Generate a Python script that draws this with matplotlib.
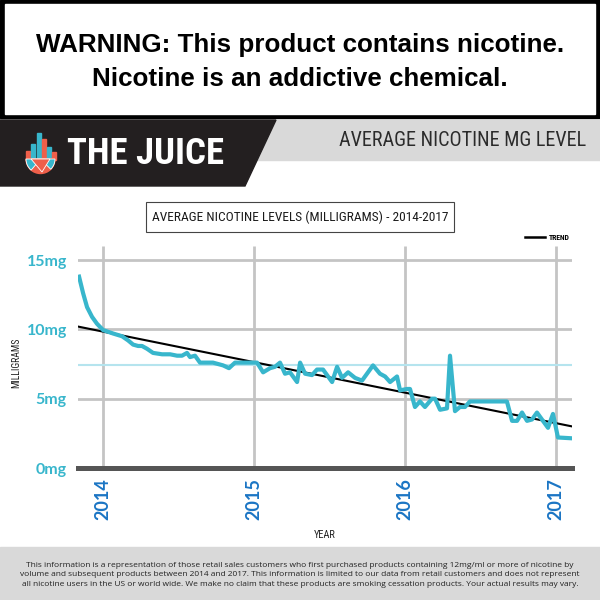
import matplotlib
matplotlib.use("Agg")
import matplotlib.pyplot as plt
from matplotlib import font_manager
from matplotlib.patches import Rectangle, Polygon, Wedge

# monthly-ish average nicotine level (decimal year, mg)
years = [2013.841, 2013.868, 2013.894, 2013.927, 2013.960, 2014.000, 2014.066,
         2014.126, 2014.166, 2014.199, 2014.232, 2014.258, 2014.291, 2014.331,
         2014.391, 2014.444, 2014.490, 2014.523, 2014.556, 2014.576, 2014.609,
         2014.642, 2014.675, 2014.728, 2014.795, 2014.834, 2014.874, 2014.921,
         2014.954, 2014.993, 2015.020, 2015.060, 2015.106, 2015.139, 2015.172,
         2015.205, 2015.238, 2015.285, 2015.305, 2015.338, 2015.384, 2015.417,
         2015.457, 2015.517, 2015.550, 2015.583, 2015.623, 2015.669, 2015.715,
         2015.788, 2015.834, 2015.868, 2015.901, 2015.947, 2015.967, 2016.013,
         2016.033, 2016.066, 2016.099, 2016.132, 2016.179, 2016.199, 2016.232,
         2016.278, 2016.298, 2016.331, 2016.364, 2016.397, 2016.430, 2016.477,
         2016.675, 2016.709, 2016.742, 2016.775, 2016.808, 2016.841, 2016.874,
         2016.907, 2016.947, 2016.980, 2017.013, 2017.093]
nicotine_mg = [13.8, 12.6, 11.6, 10.9, 10.4, 9.95, 9.7,
               9.5, 9.2, 8.9, 8.8, 8.8, 8.6, 8.3,
               8.2, 8.2, 8.1, 8.1, 8.3, 8.0, 8.1,
               7.6, 7.6, 7.6, 7.4, 7.2, 7.6, 7.6,
               7.6, 7.6, 7.6, 6.9, 7.2, 7.3, 7.6,
               6.8, 6.9, 6.2, 7.6, 6.8, 6.7, 7.1,
               7.1, 6.2, 7.3, 6.5, 6.9, 6.5, 6.3,
               7.4, 6.8, 6.6, 6.2, 6.6, 5.6, 5.7,
               5.7, 4.4, 4.8, 4.4, 5.0, 5.0, 4.2,
               4.3, 8.1, 4.1, 4.4, 4.4, 4.8, 4.8,
               4.8, 3.4, 3.4, 4.0, 3.4, 3.5, 4.0,
               3.5, 2.9, 3.9, 2.2, 2.15]
trend_years = [2013.834, 2017.106]
trend_mg = [10.2, 3.0]
average_mg = 7.45
year_ticks = [2014, 2015, 2016, 2017]
mg_ticks = [0, 5, 10, 15]
mg_labels = ["0mg", "5mg", "10mg", "15mg"]

names = {f.name for f in font_manager.fontManager.ttflist}


def pick(*cands):
    for c in cands:
        if c in names:
            return c
    return "DejaVu Sans"


narrow = pick("Roboto Condensed", "Liberation Sans Narrow", "Open Sans Condensed",
              "DejaVu Sans Condensed", "Roboto")
arial = pick("Liberation Sans", "DejaVu Sans")
round_font = pick("Lato", "Open Sans", "DejaVu Sans")
body = pick("Open Sans", "Noto Sans", "DejaVu Sans")

cyan = "#38b6cc"
red = "#ef5f4a"
dark = "#231f20"
grid = "#c4c4c4"

fig = plt.figure(figsize=(6, 6), dpi=100)

# background layer in pixel coordinates
bg = fig.add_axes([0, 0, 1, 1])
bg.set_xlim(0, 600)
bg.set_ylim(600, 0)
bg.axis("off")

# warning box
bg.add_patch(Rectangle((0, 0), 600, 118, color="black"))
bg.add_patch(Rectangle((5, 4), 590, 110, color="white"))
bg.text(300, 45, "WARNING: This product contains nicotine.", ha="center", va="center",
        family=arial, weight="bold", size=18.7)
bg.text(300, 79, "Nicotine is an addictive chemical.", ha="center", va="center",
        family=arial, weight="bold", size=18.7)

# header band
bg.add_patch(Rectangle((0, 120), 600, 40, color="#d9d9d9"))
bg.add_patch(Polygon([(0, 120), (276, 120), (245, 186), (0, 186)], color=dark))
bg.text(586, 140, "AVERAGE NICOTINE MG LEVEL", ha="right", va="center",
        family=narrow, size=14.5, color="#2b2b2b")
bg.text(67, 154, "THE JUICE", ha="left", va="center", family=narrow,
        weight="bold", size=26.5, color="white")

# logo
for x0, top, col in [(26, 151, red), (31, 144, cyan), (37, 133, cyan),
                     (42, 139, red), (47, 147, cyan), (52, 152, red)]:
    bg.add_patch(Rectangle((x0, top), 4, 160 - top, color=col))
bg.add_patch(Wedge((40.5, 159), 14.5, 0, 180, color=red))
bg.add_patch(Wedge((40.5, 159), 14.5, 0, 45, color=cyan, ec="white", lw=0.6))
bg.add_patch(Wedge((40.5, 159), 14.5, 130, 180, color=cyan, ec="white", lw=0.6))
bg.add_patch(Polygon([(31, 159), (50, 159), (42, 172)], color=red, ec="white", lw=0.6))

# chart title box and legend
bg.add_patch(Rectangle((146, 202), 308, 30, fill=False, ec="#444444", lw=0.8))
bg.text(300, 217, "AVERAGE NICOTINE LEVELS (MILLIGRAMS) - 2014-2017", ha="center",
        va="center", family=narrow, size=9.6, color="#1a1a1a")
bg.plot([525, 545], [237, 237], color="black", lw=1.8)
bg.text(549, 237, "TREND", ha="left", va="center", family=narrow, size=5.5,
        weight="bold")

# footer
bg.add_patch(Rectangle((0, 547), 600, 53, color="#d9d9d9"))
footer = ("This information is a representation of those retail sales customers who first purchased products containing 12mg/ml or more of nicotine by\n"
          "volume and subsequent products between 2014 and 2017. This information is limited to our data from retail customers and does not represent\n"
          "all nicotine users in the US or world wide. We make no claim that these products are smoking cessation products. Your actual results may vary.")
bg.text(300, 575, footer, ha="center", va="center", family=body, size=6.05,
        linespacing=1.5, color="#222222")

# main chart
ax = fig.add_axes([78 / 600, 1 - 470 / 600, 494 / 600, 224 / 600])
ax.set_facecolor("none")
ax.set_xlim(trend_years[0], trend_years[1])
ax.set_ylim(-0.144, 16.01)
for s in ax.spines.values():
    s.set_visible(False)

for m in mg_ticks[1:]:
    ax.axhline(m, color=grid, lw=2, zorder=1)
ax.vlines(year_ticks, 0, 16.01, color=grid, lw=2, zorder=1)
ax.axhline(0, color="#555555", lw=3.6, zorder=2, clip_on=False)
ax.axhline(average_mg, color="#b5e4ee", lw=1.5, zorder=2)
ax.plot(trend_years, trend_mg, color="black", lw=1.5, zorder=3)
ax.plot(years, nicotine_mg, color=cyan, lw=3, zorder=4)

ax.set_yticks(mg_ticks, mg_labels)
ax.tick_params(axis="y", length=0, pad=8, labelcolor=cyan, labelsize=11.5)
ax.set_xticks(year_ticks, [str(y) for y in year_ticks], rotation=90)
ax.tick_params(axis="x", length=0, pad=6, labelcolor="#1b75c4", labelsize=13)
for lbl in ax.get_yticklabels() + ax.get_xticklabels():
    lbl.set_fontfamily(round_font)
    lbl.set_fontweight("bold")

fig.text(16 / 600, 1 - 363 / 600, "MILLIGRAMS", rotation=90, ha="center", va="center",
         family=narrow, size=7, color="#222222")
fig.text(325 / 600, 1 - 535 / 600, "YEAR", ha="center", va="center", family=narrow,
         size=7.5, color="#222222")

fig.savefig("out.png", dpi=100)
